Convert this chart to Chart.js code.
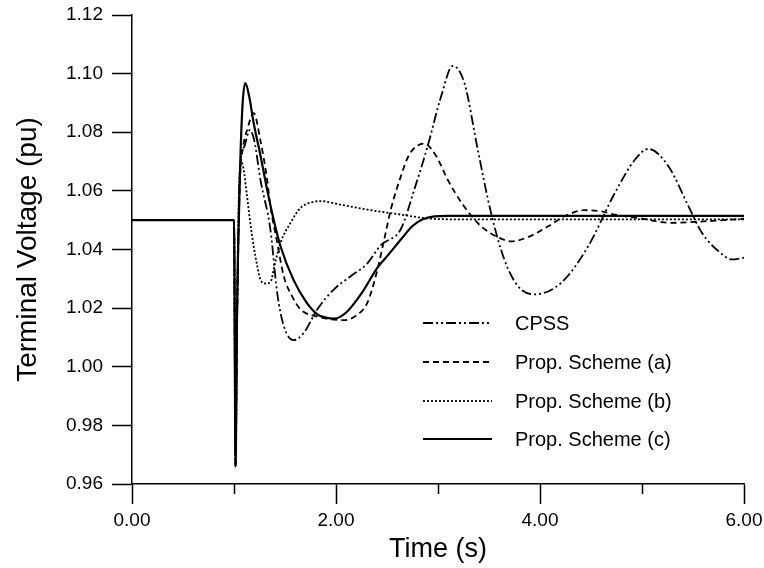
<!DOCTYPE html>
<html>
<head>
<meta charset="utf-8">
<title>Terminal Voltage</title>
<script src="https://cdn.jsdelivr.net/npm/chart.js"></script>
<style>
    html, body { margin: 0; padding: 0; background: #fff; }
    canvas { display: block; }
</style>
</head>
<body>
<canvas id="voltage-chart" width="764" height="568"></canvas>
<script>
// values (time in s, voltage in pu)
const cpssTime = [0, 1.0, 1.015, 1.03, 1.06, 1.1, 1.154, 1.2, 1.259, 1.357, 1.423, 1.488, 1.587, 1.685, 1.817, 1.98, 2.144, 2.3, 2.44, 2.636, 2.767, 2.898, 3.03, 3.144, 3.259, 3.39, 3.52, 3.65, 3.784, 3.947, 4.21, 4.472, 4.734, 4.93, 5.062, 5.259, 5.456, 5.587, 5.751, 5.882, 6.0];
const cpssVolt = [1.05, 1.05, 0.966, 1.015, 1.068, 1.075, 1.0808, 1.077, 1.0638, 1.0468, 1.0253, 1.0139, 1.0091, 1.0116, 1.0196, 1.0264, 1.0309, 1.035, 1.0415, 1.047, 1.0604, 1.0752, 1.0922, 1.1026, 1.0968, 1.074, 1.0525, 1.0366, 1.0275, 1.0247, 1.0287, 1.0411, 1.0593, 1.0706, 1.0743, 1.0684, 1.0547, 1.0457, 1.0394, 1.0366, 1.0372];

const schemeATime = [0, 1.0, 1.015, 1.03, 1.057, 1.09, 1.13, 1.193, 1.26, 1.325, 1.357, 1.42, 1.488, 1.57, 1.652, 1.817, 1.95, 2.078, 2.2, 2.308, 2.407, 2.47, 2.54, 2.636, 2.72, 2.866, 2.98, 3.095, 3.25, 3.423, 3.57, 3.718, 3.9, 4.079, 4.25, 4.439, 4.6, 4.734, 5.0, 5.29, 5.55, 5.8, 6.0];
const schemeAVolt = [1.05, 1.05, 0.966, 1.015, 1.062, 1.075, 1.081, 1.0865, 1.077, 1.0638, 1.0547, 1.043, 1.0309, 1.024, 1.0196, 1.0171, 1.0162, 1.0159, 1.0175, 1.0219, 1.0332, 1.043, 1.054, 1.065, 1.0725, 1.0761, 1.072, 1.0638, 1.055, 1.0479, 1.0445, 1.0428, 1.0445, 1.0479, 1.0515, 1.0534, 1.053, 1.0519, 1.0505, 1.0491, 1.0495, 1.050, 1.0505];

const schemeBTime = [0, 1.0, 1.015, 1.03, 1.055, 1.079, 1.1, 1.128, 1.16, 1.193, 1.23, 1.259, 1.308, 1.357, 1.40, 1.456, 1.554, 1.652, 1.75, 1.849, 2.046, 2.308, 2.636, 2.93, 3.2, 4.0, 5.0, 6.0];
const schemeBVolt = [1.05, 1.05, 0.966, 1.02, 1.066, 1.0695, 1.066, 1.0582, 1.049, 1.0411, 1.034, 1.0298, 1.0284, 1.0289, 1.035, 1.0423, 1.0491, 1.0542, 1.056, 1.0565, 1.0553, 1.0536, 1.0519, 1.0505, 1.0503, 1.0503, 1.0503, 1.0503];

const schemeCTime = [0, 1.0, 1.015, 1.03, 1.057, 1.083, 1.111, 1.15, 1.193, 1.26, 1.325, 1.39, 1.456, 1.581, 1.712, 1.817, 1.9, 1.98, 2.1, 2.25, 2.407, 2.52, 2.636, 2.75, 2.85, 2.964, 3.1, 3.5, 4.0, 5.0, 6.0];
const schemeCVolt = [1.05, 1.05, 0.966, 1.0185, 1.064, 1.089, 1.0968, 1.092, 1.0831, 1.072, 1.0604, 1.050, 1.0411, 1.0298, 1.0219, 1.0179, 1.0168, 1.0164, 1.0185, 1.025, 1.0338, 1.0385, 1.0434, 1.048, 1.0503, 1.0513, 1.0515, 1.0515, 1.0515, 1.0515, 1.0515];

const seriesLabels = ['CPSS', 'Prop. Scheme (a)', 'Prop. Scheme (b)', 'Prop. Scheme (c)'];
const xMajorTicks = [0, 2, 4, 6];
const xMinorTicks = [1, 3, 5];
const yTicks = [0.96, 0.98, 1.00, 1.02, 1.04, 1.06, 1.08, 1.10, 1.12];

const toPoints = (t, v) => t.map((x, i) => ({ x: x, y: v[i] }));
const fontFamily = '"Liberation Sans", Arial, sans-serif';

// minor ticks on the time axis (half length)
const minorTickPlugin = {
    id: 'minorTicks',
    afterDraw(chart) {
        const ctx = chart.ctx;
        const xs = chart.scales.x;
        ctx.save();
        ctx.strokeStyle = '#000';
        ctx.lineWidth = 1.5;
        xMinorTicks.forEach(v => {
            const px = Math.round(xs.getPixelForValue(v)) + 0.5;
            ctx.beginPath();
            ctx.moveTo(px, xs.top);
            ctx.lineTo(px, xs.top + 10);
            ctx.stroke();
        });
        ctx.restore();
    }
};

// legend drawn inside the plot, lower right
const innerLegendPlugin = {
    id: 'innerLegend',
    afterDraw(chart) {
        const ctx = chart.ctx;
        const x0 = 423, x1 = 492, textX = 515;
        const rows = [323, 362, 401, 439];
        ctx.save();
        ctx.font = '20px ' + fontFamily;
        ctx.textBaseline = 'middle';
        ctx.fillStyle = '#000';
        chart.data.datasets.forEach((ds, i) => {
            ctx.beginPath();
            ctx.strokeStyle = '#000';
            ctx.lineWidth = ds.borderWidth;
            ctx.setLineDash(ds.borderDash || []);
            ctx.moveTo(x0, rows[i]);
            ctx.lineTo(x1, rows[i]);
            ctx.stroke();
            ctx.setLineDash([]);
            ctx.fillText(ds.label, textX, rows[i] + 1);
        });
        ctx.restore();
    }
};

const lineStyle = {
    borderColor: '#000',
    backgroundColor: '#000',
    pointRadius: 0,
    fill: false,
    cubicInterpolationMode: 'monotone'
};

new Chart(document.getElementById('voltage-chart').getContext('2d'), {
    type: 'line',
    data: {
        datasets: [
            { ...lineStyle, label: seriesLabels[0], data: toPoints(cpssTime, cpssVolt), borderWidth: 1.8, borderDash: [10, 3, 2, 3, 2, 3] },
            { ...lineStyle, label: seriesLabels[1], data: toPoints(schemeATime, schemeAVolt), borderWidth: 1.8, borderDash: [6, 4] },
            { ...lineStyle, label: seriesLabels[2], data: toPoints(schemeBTime, schemeBVolt), borderWidth: 1.8, borderDash: [2, 2] },
            { ...lineStyle, label: seriesLabels[3], data: toPoints(schemeCTime, schemeCVolt), borderWidth: 2.2 }
        ]
    },
    options: {
        responsive: false,
        animation: false,
        devicePixelRatio: 1,
        layout: { padding: { left: 0, top: 15, right: 20, bottom: 0 } },
        plugins: {
            legend: { display: false },
            tooltip: { enabled: false }
        },
        scales: {
            x: {
                type: 'linear',
                min: 0,
                max: 6,
                // fixed box so the plot area lines up with the original
                afterFit: s => { s.height = 84; s.paddingLeft = 0; s.paddingRight = 0; },
                afterBuildTicks: s => { s.ticks = xMajorTicks.map(v => ({ value: v })); },
                border: { display: true, color: '#000', width: 1.5 },
                grid: { drawOnChartArea: false, drawTicks: true, tickLength: 20, tickColor: '#000', tickWidth: 1.5 },
                ticks: {
                    color: '#000',
                    padding: 5,
                    maxRotation: 0,
                    font: { family: fontFamily, size: 19 },
                    callback: v => v.toFixed(2)
                },
                title: {
                    display: true,
                    text: 'Time (s)',
                    color: '#000',
                    padding: { top: 0, bottom: 2 },
                    font: { family: fontFamily, size: 27 }
                }
            },
            y: {
                type: 'linear',
                min: 0.96,
                max: 1.12,
                afterFit: s => { s.width = 132; s.paddingTop = 0; s.paddingBottom = 0; },
                afterBuildTicks: s => { s.ticks = yTicks.map(v => ({ value: v })); },
                border: { display: true, color: '#000', width: 1.5 },
                grid: { drawOnChartArea: false, drawTicks: true, tickLength: 20, tickColor: '#000', tickWidth: 1.5 },
                ticks: {
                    color: '#000',
                    padding: 9,
                    font: { family: fontFamily, size: 19 },
                    callback: v => v.toFixed(2)
                },
                title: {
                    display: true,
                    text: 'Terminal Voltage (pu)',
                    color: '#000',
                    padding: { top: 11, bottom: 0 },
                    font: { family: fontFamily, size: 28 }
                }
            }
        }
    },
    plugins: [minorTickPlugin, innerLegendPlugin]
});
</script>
</body>
</html>
